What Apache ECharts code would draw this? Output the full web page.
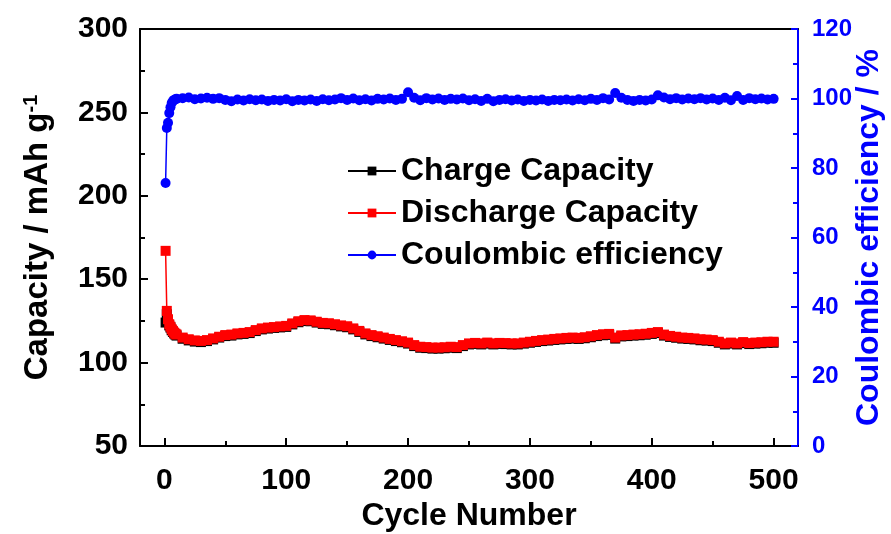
<!DOCTYPE html>
<html>
<head>
<meta charset="utf-8">
<script src="https://cdn.jsdelivr.net/npm/echarts@6/dist/echarts.min.js"></script>
<style>
  html, body { margin: 0; padding: 0; background: #fff; }
  #chart { width: 891px; height: 534px; }
</style>
</head>
<body>
<div id="chart"></div>
<script>
// ---- data ----
const cycles = [1, 2, 3, 4, 5, 6, 7, 8, 9, 10,
  15, 20, 25, 30, 35, 40, 45, 50, 55, 60,
  65, 70, 75, 80, 85, 90, 95, 100, 105, 110,
  115, 120, 125, 130, 135, 140, 145, 150, 155, 160,
  165, 170, 175, 180, 185, 190, 195, 200, 205, 210,
  215, 220, 225, 230, 235, 240, 245, 250, 255, 260,
  265, 270, 275, 280, 285, 290, 295, 300, 305, 310,
  315, 320, 325, 330, 335, 340, 345, 350, 355, 360,
  365, 370, 375, 380, 385, 390, 395, 400, 405, 410,
  415, 420, 425, 430, 435, 440, 445, 450, 455, 460,
  465, 470, 475, 480, 485, 490, 495, 500];

const chargeCapacity = [124, 129, 125, 122.3, 121, 119.4, 118.4, 117.5, 116.8, 116.2,
  114.3, 113.3, 112.6, 112.3, 112.9, 113.9, 115, 115.9, 116.2, 116.9,
  117.2, 117.7, 118.9, 119.9, 120.4, 120.8, 121.1, 121.4, 122.9, 124.2,
  124.9, 124.8, 124, 123.2, 123, 122.4, 121.7, 121.2, 119.9, 118.4,
  116.9, 115.9, 115.2, 114.4, 113.6, 112.9, 112.2, 111.4, 109.9, 108.9,
  108.7, 108.4, 108.4, 108.6, 108.9, 108.7, 109.9, 110.9, 111.2, 110.9,
  111.4, 110.9, 111.2, 111.1, 110.9, 110.9, 111.4, 111.9, 112.4, 112.9,
  113.2, 113.6, 113.9, 114.2, 114.4, 114.2, 114.6, 115.2, 115.9, 116.4,
  116.6, 114.4, 115.7, 115.9, 116.2, 116.4, 116.7, 117.2, 117.7, 116.2,
  115.4, 114.9, 114.4, 114.2, 113.9, 113.4, 113.2, 112.9, 111.9, 110.9,
  111.4, 110.9, 111.7, 111.1, 111.4, 111.6, 111.9, 111.9];

const dischargeCapacity = [167, 131, 126, 123, 121.5, 120, 119, 118, 117.3, 116.8,
  115, 114, 113.3, 113, 113.5, 114.5, 115.5, 116.5, 116.8, 117.5,
  117.8, 118.3, 119.5, 120.5, 121, 121.3, 121.7, 122, 123.5, 124.8,
  125.5, 125.3, 124.5, 123.8, 123.6, 123, 122.3, 121.8, 120.5, 119,
  117.5, 116.5, 115.8, 115, 114.2, 113.5, 112.8, 112, 110.5, 109.5,
  109.3, 109, 109, 109.2, 109.5, 109.3, 110.5, 111.5, 111.8, 111.5,
  112, 111.5, 111.8, 111.7, 111.5, 111.5, 112, 112.5, 113, 113.5,
  113.8, 114.2, 114.5, 114.8, 115, 114.8, 115.2, 115.8, 116.5, 117,
  117.2, 115, 116.3, 116.5, 116.8, 117, 117.3, 117.8, 118.3, 116.8,
  116, 115.5, 115, 114.8, 114.5, 114, 113.8, 113.5, 112.5, 111.5,
  112, 111.5, 112.3, 111.7, 112, 112.2, 112.5, 112.5];

const coulombicEfficiency = [75.7, 91.5, 93, 95.8, 97.5, 98.7, 99.3, 99.6, 99.8, 99.9,
  100.1, 100.3, 99.8, 100.0, 100.2, 99.9, 100.1, 99.6, 99.2, 99.7,
  99.4, 99.8, 99.5, 99.7, 99.3, 99.6, 99.4, 99.8, 99.2, 99.6,
  99.4, 99.7, 99.3, 99.8, 99.5, 99.7, 100.1, 99.6, 100.0, 99.5,
  99.8, 99.4, 99.9, 99.7, 100.0, 99.6, 99.9, 101.8, 100.2, 99.5,
  100.1, 99.7, 100.0, 99.6, 99.9, 99.7, 100.0, 99.5, 99.8, 99.3,
  99.9, 99.2, 99.6, 99.8, 99.4, 99.7, 99.3, 99.6, 99.4, 99.7,
  99.3, 99.6, 99.5, 99.7, 99.4, 99.8, 99.5, 99.9, 99.6, 100.1,
  99.7, 101.6, 100.2, 99.6, 99.3, 99.6, 99.4, 99.7, 100.9, 100.3,
  99.8, 100.1, 99.7, 100.0, 99.8, 100.1, 99.7, 100.0, 99.6, 100.2,
  99.5, 100.7, 99.6, 100.1, 99.8, 100.0, 99.7, 99.9];

const xMajorTicks = [0, 100, 200, 300, 400, 500];
const xMinorTicks = [50, 150, 250, 350, 450];
const seriesNames = ['Charge Capacity', 'Discharge Capacity', 'Coulombic efficiency'];

// ---- chart ----
const FONT = "'Liberation Sans', Arial, sans-serif";
const pair = (xs, ys) => xs.map((x, i) => [x, ys[i]]);

const chart = echarts.init(document.getElementById('chart'), null, { renderer: 'canvas' });
chart.setOption({
  animation: false,
  backgroundColor: '#ffffff',
  grid: { left: 140, right: 93, top: 29, bottom: 88, containLabel: false, outerBoundsMode: 'none' },
  legend: {
    orient: 'vertical',
    left: 347,
    top: 155,
    padding: 0,
    itemWidth: 48,
    itemHeight: 11,
    itemGap: 10,
    data: seriesNames,
    textStyle: { fontFamily: FONT, fontWeight: 'bold', fontSize: 32, color: '#000', lineHeight: 31 }
  },
  xAxis: [
    {
      type: 'value', position: 'bottom', min: -20, max: 520,
      name: 'Cycle Number', nameLocation: 'middle', nameGap: 54, nameMoveOverlap: false,
      nameTextStyle: { fontFamily: FONT, fontWeight: 'bold', fontSize: 32, color: '#000' },
      axisLine: { show: true, onZero: false, lineStyle: { color: '#000', width: 2 } },
      axisTick: { show: true, inside: true, length: 8, customValues: xMajorTicks, lineStyle: { color: '#000', width: 2 } },
      axisLabel: { show: true, customValues: xMajorTicks, margin: 20, fontFamily: FONT, fontWeight: 'bold', fontSize: 30, color: '#000' },
      splitLine: { show: false }
    },
    {
      type: 'value', position: 'bottom', min: -20, max: 520,
      axisLine: { show: false },
      axisTick: { show: true, inside: true, length: 5, customValues: xMinorTicks, lineStyle: { color: '#000', width: 2 } },
      axisLabel: { show: false },
      splitLine: { show: false }
    },
    {
      type: 'value', position: 'top', min: -20, max: 520,
      axisLine: { show: true, onZero: false, lineStyle: { color: '#000', width: 2 } },
      axisTick: { show: false },
      axisLabel: { show: false },
      splitLine: { show: false }
    }
  ],
  yAxis: [
    {
      type: 'value', position: 'left', min: 50, max: 300, interval: 50,
      name: '{n|Capacity / mAh g}{s|-1}', nameLocation: 'middle', nameGap: 86, nameMoveOverlap: false,
      nameTextStyle: {
        rich: {
          n: { fontFamily: FONT, fontWeight: 'bold', fontSize: 33, color: '#000' },
          s: { fontFamily: FONT, fontWeight: 'bold', fontSize: 20, color: '#000', verticalAlign: 'top' }
        }
      },
      axisLine: { show: true, onZero: false, lineStyle: { color: '#000', width: 2 } },
      axisTick: { show: true, inside: true, length: 8, lineStyle: { color: '#000', width: 2 } },
      minorTick: { show: true, splitNumber: 2, length: 5, lineStyle: { color: '#000', width: 2 } },
      axisLabel: { margin: 12, fontFamily: FONT, fontWeight: 'bold', fontSize: 30, color: '#000' },
      splitLine: { show: false }
    },
    {
      type: 'value', position: 'right', min: 0, max: 120, interval: 20,
      name: 'Coulombic efficiency / %', nameLocation: 'middle', nameGap: 55, nameMoveOverlap: false,
      nameTextStyle: { fontFamily: FONT, fontWeight: 'bold', fontSize: 32, color: '#0000ff' },
      axisLine: { show: true, onZero: false, lineStyle: { color: '#0000ff', width: 2 } },
      axisTick: { show: true, inside: true, length: 7, lineStyle: { color: '#0000ff', width: 2 } },
      minorTick: { show: true, splitNumber: 2, length: 5, lineStyle: { color: '#0000ff', width: 2 } },
      axisLabel: { margin: 14, fontFamily: FONT, fontWeight: 'bold', fontSize: 24, color: '#0000ff' },
      splitLine: { show: false }
    }
  ],
  series: [
    {
      name: seriesNames[0], type: 'line', xAxisIndex: 0, yAxisIndex: 0,
      data: pair(cycles, chargeCapacity),
      symbol: 'rect', symbolSize: 10,
      itemStyle: { color: '#000000' },
      lineStyle: { color: '#000000', width: 1.5 },
      z: 2
    },
    {
      name: seriesNames[1], type: 'line', xAxisIndex: 0, yAxisIndex: 0,
      data: pair(cycles, dischargeCapacity),
      symbol: 'rect', symbolSize: 10,
      itemStyle: { color: '#ff0000' },
      lineStyle: { color: '#ff0000', width: 1.5 },
      z: 3
    },
    {
      name: seriesNames[2], type: 'line', xAxisIndex: 0, yAxisIndex: 1,
      data: pair(cycles, coulombicEfficiency),
      symbol: 'circle', symbolSize: 10,
      itemStyle: { color: '#0000ff' },
      lineStyle: { color: '#0000ff', width: 1.5 },
      z: 4
    }
  ]
});
</script>
</body>
</html>
